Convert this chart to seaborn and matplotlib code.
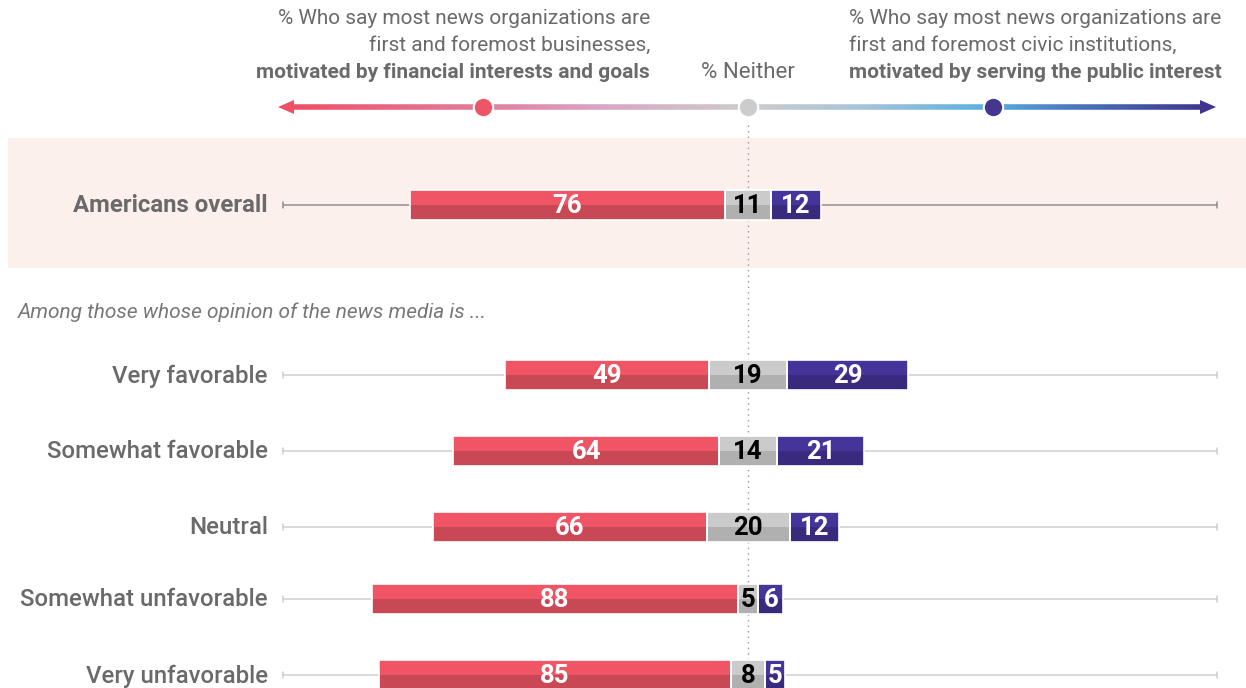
import matplotlib
matplotlib.use("Agg")
import matplotlib.pyplot as plt
from matplotlib.collections import LineCollection
from matplotlib.colors import LinearSegmentedColormap
from matplotlib.patches import Rectangle, Polygon
import numpy as np
import seaborn as sns

# data
groups = ["Americans overall", "Very favorable", "Somewhat favorable",
          "Neutral", "Somewhat unfavorable", "Very unfavorable"]
business = [76, 49, 64, 66, 88, 85]
neither = [11, 19, 14, 20, 5, 8]
civic = [12, 29, 21, 12, 6, 5]

# layout (pixel rows, px per percent point)
row_y = [205, 375, 451, 527, 599, 675]
X0, SCALE = 748, 4.15
BAR_H = 30

RED_T, RED_B = "#F05566", "#C94855"
GRY_T, GRY_B = "#CBCBCB", "#B0B0B0"
PUR_T, PUR_B = "#45359A", "#3A2A7E"
TXT = "#6a6a6a"

sns.set_theme(style="white")
plt.rcParams["font.family"] = ["Roboto", "DejaVu Sans"]


def ux(px):
    return (px - X0) / SCALE


fig = plt.figure(figsize=(12.46, 6.88), dpi=100)
ax = fig.add_axes([0, 0, 1, 1])
ax.set_xlim(ux(0), ux(1246))
ax.set_ylim(688, 0)
ax.axis("off")

# highlighted band for the overall row
ax.add_patch(Rectangle((ux(8), 138), ux(1246) - ux(8), 130,
                       color="#FCF0EC", zorder=0, lw=0))

# centre dotted line
ax.plot([0, 0], [125, 688], color="#999999", lw=1, ls=(0, (1, 3)), zorder=1)

for i, (g, b, n, c, y) in enumerate(zip(groups, business, neither, civic, row_y)):
    line_col = "#8f8f8f" if i == 0 else "#cfcfcf"
    ax.plot([ux(283), ux(1217)], [y, y], color=line_col, lw=1.1, zorder=1)
    for xe in (ux(283), ux(1217)):
        ax.plot([xe, xe], [y - 3, y + 3], color=line_col, lw=1.1, zorder=1)

    segs = [(-(n / 2 + b), b, RED_T, RED_B, b, "white"),
            (-n / 2, n, GRY_T, GRY_B, n, "black"),
            (n / 2, c, PUR_T, PUR_B, c, "white")]
    for left, w, ct, cb, val, tc in segs:
        ax.barh(y - BAR_H / 4, w, left=left, height=BAR_H / 2, color=ct, lw=0, zorder=2)
        ax.barh(y + BAR_H / 4, w, left=left, height=BAR_H / 2, color=cb, lw=0, zorder=2)
        ax.barh(y, w, left=left, height=BAR_H, facecolor="none",
                edgecolor="white", lw=1.2, zorder=3)
        ax.text(left + w / 2, y + 1, str(val), ha="center", va="center",
                color=tc, fontsize=18.5, fontweight="bold", zorder=4)

    ax.text(ux(268), y + 1, g, ha="right", va="center", color=TXT,
            fontsize=17.3, fontweight="bold" if i == 0 else "medium")

ax.text(ux(18), 312, "Among those whose opinion of the news media is ...",
        ha="left", va="center", color="#777777", fontsize=15, style="italic")

# header texts
hdr = 15
ax.text(ux(650), 19, "% Who say most news organizations are", ha="right",
        va="center", color=TXT, fontsize=hdr)
ax.text(ux(650), 45, "first and foremost businesses,", ha="right",
        va="center", color=TXT, fontsize=hdr)
ax.text(ux(650), 72, "motivated by financial interests and goals", ha="right",
        va="center", color=TXT, fontsize=hdr, fontweight="bold")
ax.text(ux(849), 19, "% Who say most news organizations are", ha="left",
        va="center", color=TXT, fontsize=hdr)
ax.text(ux(849), 45, "first and foremost civic institutions,", ha="left",
        va="center", color=TXT, fontsize=hdr)
ax.text(ux(849), 72, "motivated by serving the public interest", ha="left",
        va="center", color=TXT, fontsize=hdr, fontweight="bold")
ax.text(0, 72, "% Neither", ha="center", va="center", color=TXT, fontsize=16)

# gradient arrow line
cmap = LinearSegmentedColormap.from_list("arrow", [
    (0.0, "#EE5066"), (0.21, "#E27C9E"), (0.33, "#D9A3C2"),
    (0.50, "#CCCCCC"), (0.62, "#A9C3D8"), (0.76, "#5BB0E0"),
    (0.86, "#4A76BC"), (1.0, "#3F3591")])
xs = np.linspace(ux(292), ux(1205), 300)
pts = np.column_stack([xs, np.full_like(xs, 107)])
segments = np.stack([pts[:-1], pts[1:]], axis=1)
lc = LineCollection(segments, colors=cmap(np.linspace(0, 1, len(segments))),
                    lw=4, zorder=2, capstyle="butt")
ax.add_collection(lc)
ax.add_patch(Polygon([(ux(278), 107), (ux(294), 100), (ux(294), 114)],
                     color="#EE5066", lw=0, zorder=2))
ax.add_patch(Polygon([(ux(1216), 107), (ux(1200), 100), (ux(1200), 114)],
                     color="#3F3591", lw=0, zorder=2))
for px, col in [(483, "#EE5566"), (748, "#CCCCCC"), (993, "#45368F")]:
    ax.plot(ux(px), 107, "o", ms=14, color=col, mec="white", mew=1.5, zorder=3)

fig.savefig("out.png", dpi=100)
